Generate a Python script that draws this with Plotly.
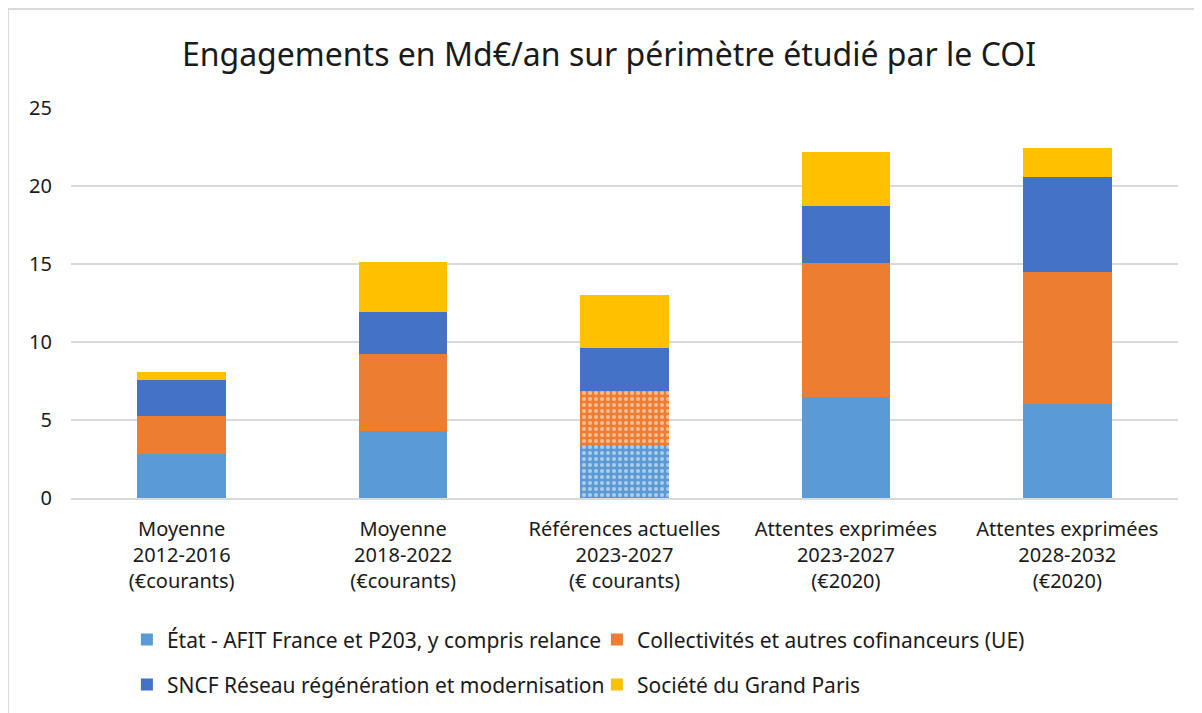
import plotly.graph_objects as go

# Périodes (axe des x)
categories = [
    "Moyenne<br>2012-2016<br>(€courants)",
    "Moyenne<br>2018-2022<br>(€courants)",
    "Références actuelles<br>2023-2027<br>(€ courants)",
    "Attentes exprimées<br>2023-2027<br>(€2020)",
    "Attentes exprimées<br>2028-2032<br>(€2020)",
]

# Engagements en Md€/an
etat_afit = [2.8, 4.3, 3.4, 6.5, 6.0]
collectivites = [2.45, 4.9, 3.45, 8.55, 8.5]
sncf_reseau = [2.3, 2.7, 2.75, 3.7, 6.05]
societe_grand_paris = [0.5, 3.2, 3.4, 3.4, 1.9]

series_names = [
    "État - AFIT France et P203, y compris relance",
    "Collectivités et autres cofinanceurs (UE)",
    "SNCF Réseau régénération et modernisation",
    "Société du Grand Paris",
]
colors = ["#5B9BD5", "#ED7D31", "#4472C4", "#FFC000"]

# seule la 3e colonne (références actuelles) est en pointillés
dotted = ["", "", ".", "", ""]

fig = go.Figure()
all_values = [etat_afit, collectivites, sncf_reseau, societe_grand_paris]
for i, (name, vals, col) in enumerate(zip(series_names, all_values, colors)):
    pattern = None
    if i < 2:
        pattern = dict(shape=dotted, fgcolor="white", size=6, solidity=0.35)
    fig.add_trace(go.Bar(
        x=categories,
        y=vals,
        name=name,
        legend="legend" if i < 2 else "legend2",
        marker=dict(color=col, line=dict(width=0), pattern=pattern),
    ))

font_name = "Noto Sans, Open Sans, sans-serif"
legend_common = dict(
    orientation="h",
    x=0.0505, xanchor="left",
    yanchor="middle",
    entrywidth=425,
    entrywidthmode="pixels",
    font=dict(size=21, color="#1a1a1a"),
    traceorder="normal",
    itemclick=False,
    itemwidth=30,
)

fig.update_layout(
    barmode="stack",
    bargap=0.6,
    width=1202,
    height=713,
    paper_bgcolor="white",
    plot_bgcolor="white",
    margin=dict(l=63, r=32, t=100, b=223),
    font=dict(family=font_name, size=20, color="#1a1a1a"),
    title=dict(
        text="Engagements en Md€/an sur périmètre étudié par le COI",
        x=0.5, xanchor="center",
        y=1 - 47 / 713, yanchor="middle", yref="container",
        font=dict(size=32, color="#1a1a1a"),
    ),
    yaxis=dict(
        range=[0, 25],
        dtick=5,
        showgrid=True,
        gridcolor="#D9D9D9",
        gridwidth=1.5,
        zeroline=False,
        showline=False,
        ticks="",
        ticklabelstandoff=18,
        tickfont=dict(size=20),
    ),
    xaxis=dict(
        showline=True,
        linecolor="#D9D9D9",
        linewidth=1.5,
        ticks="",
        ticklabelstandoff=12,
        tickfont=dict(size=20),
    ),
    legend=dict(legend_common, y=-0.364),
    legend2=dict(legend_common, y=-0.479),
    shapes=[dict(
        type="rect", xref="paper", yref="paper",
        x0=-0.057, x1=1.2, y0=-0.7, y1=1.254,
        line=dict(color="#D9D9D9", width=2),
        fillcolor="rgba(0,0,0,0)",
        layer="below",
    )],
)

fig.write_html("out.html")
